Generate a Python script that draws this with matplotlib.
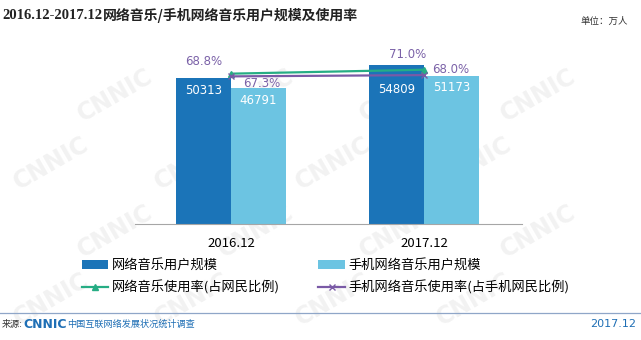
"""Network music / mobile network music users and usage rate, 2016.12-2017.12."""
import matplotlib.pyplot as plt
import numpy as np

plt.rcParams["font.family"] = ["Noto Sans CJK SC", "DejaVu Sans"]

periods = ["2016.12", "2017.12"]
music_users = [50313, 54809]
mobile_music_users = [46791, 51173]
music_rate = [68.8, 71.0]
mobile_music_rate = [67.3, 68.0]

DARK_BLUE = "#1b74b8"
LIGHT_BLUE = "#6cc4e2"
GREEN = "#26ad84"
PURPLE = "#7a5aa6"
LABEL_PURPLE = "#7b62a8"
FOOT_BLUE = "#1f6fb5"

fig = plt.figure(figsize=(6.41, 3.40), dpi=100)

# faint tiled watermark behind everything
wm = fig.add_axes([0, 0, 1, 1], zorder=-5)
wm.set_axis_off()
wm.set_xlim(0, 1)
wm.set_ylim(0, 1)
for row, yy in enumerate(np.arange(0.12, 0.92, 0.2)):
    for xx in np.arange(0.08 + (row % 2) * 0.1, 0.95, 0.22):
        wm.text(xx, yy, "CNNIC", fontsize=17, fontweight="bold", color="#f2f2f2",
                rotation=30, ha="center", va="center", family="DejaVu Sans")

ax = fig.add_axes([0.2106, 0.341, 0.604, 0.512])
ax.patch.set_alpha(0)
x = np.arange(len(periods))
width = 0.285
dark = ax.bar(x - width / 2, music_users, width, color=DARK_BLUE, label="网络音乐用户规模")
light = ax.bar(x + width / 2, mobile_music_users, width, color=LIGHT_BLUE, label="手机网络音乐用户规模")

# value labels inside the bars; the taller 2017 bar is pushed below the rate lines
bar_label_drop = [[-4, -13], [-4, -4]]
for bars, vals, drops in ((dark, music_users, bar_label_drop[0]),
                          (light, mobile_music_users, bar_label_drop[1])):
    for b, v, d in zip(bars, vals, drops):
        ax.annotate(f"{v}", (b.get_x() + b.get_width() / 2, v), xytext=(0, d),
                    textcoords="offset points", ha="center", va="top",
                    color="white", fontsize=8.5, family="DejaVu Sans")
ax.set_ylim(0, 60000)
ax.set_xlim(-0.497, 1.507)
ax.set_yticks([])
ax.set_xticks(x)
ax.set_xticklabels(periods, fontsize=9.5)
ax.tick_params(axis="x", length=0, pad=9)
for side in ("top", "right", "left"):
    ax.spines[side].set_visible(False)
ax.spines["bottom"].set_color("#a6a6a6")

ax2 = ax.twinx()
l1, = ax2.plot(x, music_rate, color=GREEN, lw=1.6, marker="^", ms=4, label="网络音乐使用率(占网民比例)")
l2, = ax2.plot(x, mobile_music_rate, color=PURPLE, lw=1.6, marker="x", ms=5,
               label="手机网络音乐使用率(占手机网民比例)")
ax2.set_ylim(-15, 82)
ax2.set_axis_off()
offsets = [((-20, 9), (-12, 11)), ((22, -5), (19, 4))]
for line_vals, offs in ((music_rate, offsets[0]), (mobile_music_rate, offsets[1])):
    for xi, v, off in zip(x, line_vals, offs):
        ax2.annotate(f"{v:.1f}%", (xi, v), xytext=off, textcoords="offset points",
                     ha="center", va="center", color=LABEL_PURPLE, fontsize=8.5,
                     family="DejaVu Sans")

# ncol fills column-wise, so order handles as bars row / lines row
fig.legend(handles=[dark, l1, light, l2], loc="upper left", bbox_to_anchor=(0.109, 0.273),
           ncol=2, frameon=False, fontsize=9.5, handlelength=2.0, handletextpad=0.3,
           columnspacing=2.9, labelspacing=0.6)

# title: serif date range followed by the CJK heading
t_dates = fig.text(0.003, 0.955, "2016.12-2017.12", fontsize=10.5, fontweight="bold",
                   color="#222222", va="center", family="Liberation Serif")
fig.add_artist(plt.Annotation("网络音乐/手机网络音乐用户规模及使用率", xy=(1, 0.5),
                              xycoords=t_dates, xytext=(0.5, 0), textcoords="offset points",
                              va="center", ha="left", fontsize=10, fontweight="bold",
                              color="#222222"))
fig.text(0.979, 0.938, "单位：万人", fontsize=6.8, color="#333333", ha="right", va="center")

fig.add_artist(plt.Line2D([0, 1], [0.079, 0.079], color="#8fa6c8", lw=0.9))
fig.text(0.003, 0.047, "来源:", fontsize=6.6, color="#333333", va="center")
fig.text(0.036, 0.047, "CNNIC", fontsize=9, fontweight="bold", color=FOOT_BLUE, va="center",
         family="DejaVu Sans")
fig.text(0.105, 0.047, "中国互联网络发展状况统计调查", fontsize=6.6, color=FOOT_BLUE, va="center")
fig.text(0.993, 0.047, "2017.12", fontsize=8, color=FOOT_BLUE, ha="right", va="center",
         family="DejaVu Sans")

fig.savefig("out.png", dpi=100)
